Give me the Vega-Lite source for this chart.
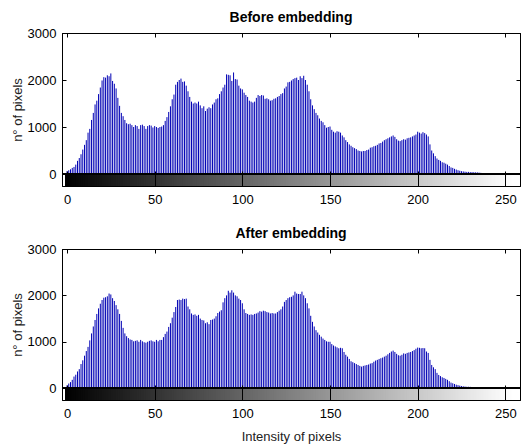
{
"$schema":"https://vega.github.io/schema/vega-lite/v6.json",
"padding":{"left":10,"top":10,"right":5,"bottom":0},
"background":"white",
"config":{
 "font":"Liberation Sans",
 "view":{"stroke":"#000000","strokeWidth":1},
 "axis":{"labelFont":"Liberation Sans","labelFontSize":13,"labelColor":"#000","titleFont":"Liberation Sans","titleFontSize":13,"titleFontWeight":"normal","titleColor":"#222","grid":false,"domain":true,"domainColor":"#000000","domainWidth":1,"tickColor":"#000","format":"d"},
 "title":{"font":"Liberation Sans","fontSize":14,"fontWeight":"bold","color":"#000","anchor":"middle","offset":2,"frame":"group"}
},
"data":{"values":[
{"i":0,"before":60,"after":60},{"i":1,"before":80,"after":100},{"i":2,"before":100,"after":130},{"i":3,"before":130,"after":180},{"i":4,"before":150,"after":250},{"i":5,"before":200,"after":290},{"i":6,"before":280,"after":360},{"i":7,"before":340,"after":410},{"i":8,"before":420,"after":520},{"i":9,"before":520,"after":600},
{"i":10,"before":620,"after":700},{"i":11,"before":720,"after":800},{"i":12,"before":880,"after":890},{"i":13,"before":960,"after":1030},{"i":14,"before":1150,"after":1180},{"i":15,"before":1300,"after":1330},{"i":16,"before":1480,"after":1470},{"i":17,"before":1560,"after":1600},{"i":18,"before":1700,"after":1720},{"i":19,"before":1840,"after":1820},
{"i":20,"before":1990,"after":1900},{"i":21,"before":2060,"after":1950},{"i":22,"before":2050,"after":1960},{"i":23,"before":2100,"after":1980},{"i":24,"before":2080,"after":2040},{"i":25,"before":2140,"after":2020},{"i":26,"before":1980,"after":1940},{"i":27,"before":1920,"after":1880},{"i":28,"before":1820,"after":1790},{"i":29,"before":1620,"after":1700},
{"i":30,"before":1450,"after":1600},{"i":31,"before":1300,"after":1450},{"i":32,"before":1230,"after":1300},{"i":33,"before":1150,"after":1180},{"i":34,"before":1080,"after":1120},{"i":35,"before":1060,"after":1080},{"i":36,"before":1070,"after":1050},{"i":37,"before":1040,"after":1040},{"i":38,"before":1000,"after":1010},{"i":39,"before":1040,"after":1020},
{"i":40,"before":1020,"after":1030},{"i":41,"before":960,"after":1000},{"i":42,"before":1040,"after":1040},{"i":43,"before":1050,"after":1010},{"i":44,"before":1020,"after":990},{"i":45,"before":960,"after":980},{"i":46,"before":1020,"after":1000},{"i":47,"before":1040,"after":1020},{"i":48,"before":1030,"after":1030},{"i":49,"before":990,"after":1010},
{"i":50,"before":1020,"after":1000},{"i":51,"before":1000,"after":1040},{"i":52,"before":980,"after":1010},{"i":53,"before":1000,"after":1040},{"i":54,"before":1010,"after":1040},{"i":55,"before":1040,"after":1100},{"i":56,"before":1130,"after":1170},{"i":57,"before":1210,"after":1220},{"i":58,"before":1320,"after":1320},{"i":59,"before":1440,"after":1400},
{"i":60,"before":1590,"after":1520},{"i":61,"before":1690,"after":1640},{"i":62,"before":1900,"after":1750},{"i":63,"before":1960,"after":1900},{"i":64,"before":2000,"after":1910},{"i":65,"before":2030,"after":1900},{"i":66,"before":1960,"after":1930},{"i":67,"before":1970,"after":1920},{"i":68,"before":1880,"after":1930},{"i":69,"before":1760,"after":1760},
{"i":70,"before":1640,"after":1700},{"i":71,"before":1540,"after":1610},{"i":72,"before":1500,"after":1580},{"i":73,"before":1520,"after":1590},{"i":74,"before":1500,"after":1560},{"i":75,"before":1540,"after":1580},{"i":76,"before":1460,"after":1500},{"i":77,"before":1400,"after":1470},{"i":78,"before":1440,"after":1460},{"i":79,"before":1340,"after":1400},
{"i":80,"before":1390,"after":1420},{"i":81,"before":1420,"after":1380},{"i":82,"before":1400,"after":1470},{"i":83,"before":1480,"after":1480},{"i":84,"before":1520,"after":1500},{"i":85,"before":1590,"after":1550},{"i":86,"before":1610,"after":1620},{"i":87,"before":1700,"after":1650},{"i":88,"before":1760,"after":1680},{"i":89,"before":1840,"after":1850},
{"i":90,"before":1900,"after":1940},{"i":91,"before":2120,"after":2000},{"i":92,"before":2110,"after":2100},{"i":93,"before":2100,"after":2060},{"i":94,"before":1980,"after":2110},{"i":95,"before":2160,"after":2060},{"i":96,"before":2020,"after":2000},{"i":97,"before":2010,"after":1980},{"i":98,"before":1880,"after":1930},{"i":99,"before":1820,"after":1900},
{"i":100,"before":1800,"after":1830},{"i":101,"before":1730,"after":1700},{"i":102,"before":1680,"after":1620},{"i":103,"before":1640,"after":1600},{"i":104,"before":1560,"after":1580},{"i":105,"before":1540,"after":1590},{"i":106,"before":1520,"after":1580},{"i":107,"before":1540,"after":1600},{"i":108,"before":1620,"after":1610},{"i":109,"before":1680,"after":1630},
{"i":110,"before":1660,"after":1660},{"i":111,"before":1680,"after":1650},{"i":112,"before":1670,"after":1670},{"i":113,"before":1600,"after":1660},{"i":114,"before":1610,"after":1640},{"i":115,"before":1590,"after":1630},{"i":116,"before":1560,"after":1610},{"i":117,"before":1570,"after":1620},{"i":118,"before":1600,"after":1610},{"i":119,"before":1610,"after":1610},
{"i":120,"before":1640,"after":1640},{"i":121,"before":1660,"after":1670},{"i":122,"before":1700,"after":1700},{"i":123,"before":1720,"after":1760},{"i":124,"before":1820,"after":1860},{"i":125,"before":1860,"after":1900},{"i":126,"before":1950,"after":1940},{"i":127,"before":1960,"after":1960},{"i":128,"before":1990,"after":1970},{"i":129,"before":2020,"after":2000},
{"i":130,"before":2040,"after":2080},{"i":131,"before":2050,"after":2040},{"i":132,"before":2000,"after":2030},{"i":133,"before":2080,"after":2030},{"i":134,"before":2040,"after":2080},{"i":135,"before":2090,"after":2000},{"i":136,"before":2000,"after":1940},{"i":137,"before":1900,"after":1830},{"i":138,"before":1760,"after":1720},{"i":139,"before":1590,"after":1560},
{"i":140,"before":1460,"after":1430},{"i":141,"before":1380,"after":1330},{"i":142,"before":1300,"after":1250},{"i":143,"before":1250,"after":1200},{"i":144,"before":1180,"after":1150},{"i":145,"before":1130,"after":1110},{"i":146,"before":1100,"after":1070},{"i":147,"before":1040,"after":1040},{"i":148,"before":985,"after":1010},{"i":149,"before":1000,"after":1000},
{"i":150,"before":1010,"after":1000},{"i":151,"before":940,"after":950},{"i":152,"before":900,"after":920},{"i":153,"before":880,"after":900},{"i":154,"before":910,"after":880},{"i":155,"before":900,"after":860},{"i":156,"before":880,"after":870},{"i":157,"before":820,"after":860},{"i":158,"before":780,"after":780},{"i":159,"before":720,"after":720},
{"i":160,"before":680,"after":680},{"i":161,"before":630,"after":630},{"i":162,"before":600,"after":580},{"i":163,"before":570,"after":560},{"i":164,"before":550,"after":540},{"i":165,"before":530,"after":520},{"i":166,"before":500,"after":500},{"i":167,"before":490,"after":480},{"i":168,"before":480,"after":465},{"i":169,"before":490,"after":480},
{"i":170,"before":490,"after":490},{"i":171,"before":510,"after":500},{"i":172,"before":520,"after":510},{"i":173,"before":560,"after":530},{"i":174,"before":570,"after":540},{"i":175,"before":590,"after":570},{"i":176,"before":600,"after":595},{"i":177,"before":620,"after":610},{"i":178,"before":650,"after":630},{"i":179,"before":660,"after":645},
{"i":180,"before":690,"after":660},{"i":181,"before":720,"after":680},{"i":182,"before":740,"after":700},{"i":183,"before":760,"after":730},{"i":184,"before":780,"after":760},{"i":185,"before":800,"after":790},{"i":186,"before":820,"after":810},{"i":187,"before":790,"after":780},{"i":188,"before":740,"after":740},{"i":189,"before":710,"after":710},
{"i":190,"before":700,"after":700},{"i":191,"before":720,"after":720},{"i":192,"before":740,"after":750},{"i":193,"before":730,"after":740},{"i":194,"before":760,"after":760},{"i":195,"before":770,"after":770},{"i":196,"before":780,"after":780},{"i":197,"before":800,"after":800},{"i":198,"before":820,"after":820},{"i":199,"before":840,"after":850},
{"i":200,"before":900,"after":875},{"i":201,"before":880,"after":870},{"i":202,"before":860,"after":860},{"i":203,"before":890,"after":865},{"i":204,"before":870,"after":860},{"i":205,"before":840,"after":790},{"i":206,"before":800,"after":760},{"i":207,"before":630,"after":610},{"i":208,"before":500,"after":500},{"i":209,"before":440,"after":450},
{"i":210,"before":380,"after":410},{"i":211,"before":330,"after":330},{"i":212,"before":300,"after":285},{"i":213,"before":280,"after":260},{"i":214,"before":250,"after":235},{"i":215,"before":240,"after":220},{"i":216,"before":220,"after":200},{"i":217,"before":200,"after":180},{"i":218,"before":170,"after":150},{"i":219,"before":140,"after":120},
{"i":220,"before":130,"after":105},{"i":221,"before":110,"after":90},{"i":222,"before":95,"after":75},{"i":223,"before":80,"after":65},{"i":224,"before":70,"after":55},{"i":225,"before":60,"after":45},{"i":226,"before":55,"after":40},{"i":227,"before":50,"after":35},{"i":228,"before":45,"after":30},{"i":229,"before":45,"after":30},
{"i":230,"before":40,"after":28},{"i":231,"before":40,"after":25},{"i":232,"before":38,"after":22},{"i":233,"before":35,"after":20},{"i":234,"before":35,"after":18},{"i":235,"before":30,"after":15},{"i":236,"before":25,"after":12},{"i":237,"before":20,"after":10},{"i":238,"before":10,"after":8},{"i":239,"before":8,"after":6},
{"i":240,"before":5,"after":5},{"i":241,"before":4,"after":4},{"i":242,"before":3,"after":3},{"i":243,"before":3,"after":2},{"i":244,"before":2,"after":2},{"i":245,"before":15,"after":2},{"i":246,"before":2,"after":2},{"i":247,"before":2,"after":2},{"i":248,"before":15,"after":2},{"i":249,"before":2,"after":15},
{"i":250,"before":2,"after":2},{"i":251,"before":1,"after":1},{"i":252,"before":1,"after":1},{"i":253,"before":1,"after":1},{"i":254,"before":1,"after":1},{"i":255,"before":0,"after":0}
]},
"spacing":19,
"vconcat":[
{
 "title":{"text":"Before embedding"},
 "width":458,"height":153,
 "view":{"stroke":"#000000","strokeWidth":1},
 "resolve":{"axis":{"x":"independent","y":"independent"}},
 "layer":[
  {"mark":{"type":"bar","width":4,"orient":"vertical","clip":true},
   "encoding":{
    "x":{"field":"i","type":"quantitative","scale":{"domain":[0,255.5],"nice":false,"zero":false},
         "axis":{"orient":"bottom","values":[0,50,100,150,200,250],"tickSize":-15,"labelPadding":22,"title":null,"zindex":1}},
    "y":{"datum":-255,"type":"quantitative","scale":{"domain":[-255,3000],"nice":false,"zero":false},
         "axis":{"orient":"right","values":[0,1000,2000,3000],"tickSize":-4,"labels":false,"title":null,"zindex":1}},
    "y2":{"datum":0},
    "color":{"field":"i","type":"quantitative","scale":{"domain":[0,255],"range":["#000000","#ffffff"],"interpolate":"rgb"},"legend":null}
   }},
  {"mark":{"type":"rule","color":"#0000b4","strokeWidth":1},
   "encoding":{
    "x":{"field":"i","type":"quantitative","axis":{"orient":"top","values":[0,50,100,150,200,250],"tickSize":-4,"labels":false,"title":null,"zindex":1}},
    "y":{"field":"before","type":"quantitative","axis":{"orient":"left","values":[0,1000,2000,3000],"tickSize":-4,"labelPadding":10,"title":"n° of pixels","titlePadding":3,"zindex":1}},
    "y2":{"datum":0}
   }},
  {"mark":{"type":"rule","color":"#000000","strokeWidth":1},
   "encoding":{"y":{"datum":0,"type":"quantitative","axis":null}}}
 ]
},
{
 "title":{"text":"After embedding"},
 "width":458,"height":151,
 "view":{"stroke":"#000000","strokeWidth":1},
 "resolve":{"axis":{"x":"independent","y":"independent"}},
 "layer":[
  {"mark":{"type":"bar","width":4,"orient":"vertical","clip":true},
   "encoding":{
    "x":{"field":"i","type":"quantitative","scale":{"domain":[0,255.5],"nice":false,"zero":false},
         "axis":{"orient":"bottom","values":[0,50,100,150,200,250],"tickSize":-15,"labelPadding":22,"title":"Intensity of pixels","titlePadding":10,"zindex":1}},
    "y":{"datum":-255,"type":"quantitative","scale":{"domain":[-255,3000],"nice":false,"zero":false},
         "axis":{"orient":"right","values":[0,1000,2000,3000],"tickSize":-4,"labels":false,"title":null,"zindex":1}},
    "y2":{"datum":0},
    "color":{"field":"i","type":"quantitative","scale":{"domain":[0,255],"range":["#000000","#ffffff"],"interpolate":"rgb"},"legend":null}
   }},
  {"mark":{"type":"rule","color":"#0000b4","strokeWidth":1},
   "encoding":{
    "x":{"field":"i","type":"quantitative","axis":{"orient":"top","values":[0,50,100,150,200,250],"tickSize":-4,"labels":false,"title":null,"zindex":1}},
    "y":{"field":"after","type":"quantitative","axis":{"orient":"left","values":[0,1000,2000,3000],"tickSize":-4,"labelPadding":10,"title":"n° of pixels","titlePadding":3,"zindex":1}},
    "y2":{"datum":0}
   }},
  {"mark":{"type":"rule","color":"#000000","strokeWidth":1},
   "encoding":{"y":{"datum":0,"type":"quantitative","axis":null}}}
 ]
}
]
}
